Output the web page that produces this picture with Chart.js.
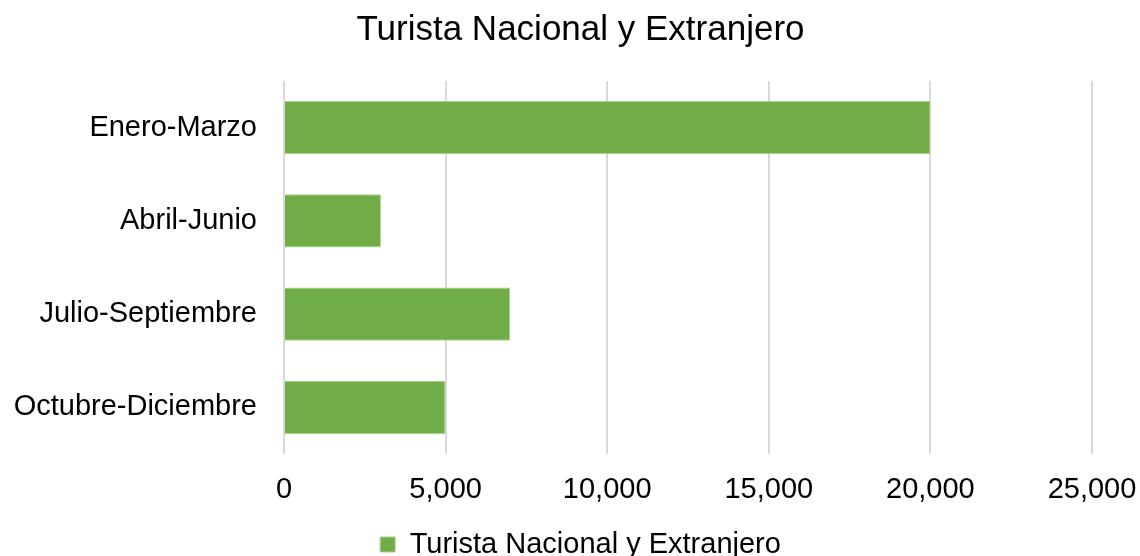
<!DOCTYPE html>
<html>
<head>
<meta charset="utf-8">
<script src="https://cdn.jsdelivr.net/npm/chart.js@4"></script>
<style>
  html, body { margin:0; padding:0; background:#fff; }
  #wrap { width:1140px; height:556px; }
</style>
</head>
<body>
<div id="wrap"><canvas id="chart" width="1140" height="556"></canvas></div>
<script>
/* DATA */
const categories = ["Enero-Marzo", "Abril-Junio", "Julio-Septiembre", "Octubre-Diciembre"];
const seriesName = "Turista Nacional y Extranjero";
const seriesValues = [20000, 3000, 7000, 5000];
const xTicks = [0, 5000, 10000, 15000, 20000, 25000];

/* STYLE */
const FONT = "'Liberation Sans', Arial, sans-serif";
const GREEN = "#70ad47";
const GRID = "#d9d9d9";

Chart.defaults.font.family = FONT;
Chart.defaults.color = "#000";

// title and legend sit a bit right of the canvas centre
const shiftTop = {
  id: "shiftTop",
  afterLayout(chart) {
    if (chart.titleBlock) chart.titleBlock.left += 21;
    if (chart.legend) chart.legend.left += 21;
  }
};

new Chart(document.getElementById("chart").getContext("2d"), {
  type: "bar",
  data: {
    labels: categories,
    datasets: [{
      label: seriesName,
      data: seriesValues,
      backgroundColor: GREEN,
      borderColor: "#a9d18e",
      borderWidth: 1,
      barPercentage: 0.57,
      categoryPercentage: 1
    }]
  },
  plugins: [shiftTop],
  options: {
    indexAxis: "y",
    responsive: false,
    animation: false,
    layout: { padding: { left: 0, right: 0, top: 0, bottom: -13 } },
    plugins: {
      title: {
        display: true,
        text: "Turista Nacional y Extranjero",
        color: "#000",
        font: { size: 35, weight: "normal" },
        padding: { top: 9, bottom: 30 }
      },
      legend: {
        position: "bottom",
        labels: {
          color: "#000",
          font: { size: 29 },
          boxWidth: 15,
          boxHeight: 15,
          padding: 0
        }
      },
      tooltip: { enabled: false }
    },
    scales: {
      x: {
        min: 0,
        max: 25000,
        afterBuildTicks: (s) => { s.ticks = xTicks.map(v => ({ value: v })); },
        afterFit: (s) => { s.height = 76; s.paddingRight = 48; },
        ticks: {
          font: { size: 29 },
          color: "#000",
          padding: 19,
          maxRotation: 0,
          callback: (v) => Number(v).toLocaleString("en-US")
        },
        grid: { color: GRID, lineWidth: 2, drawTicks: false },
        border: { display: false }
      },
      y: {
        afterFit: (s) => { s.width = 284; },
        ticks: { font: { size: 29 }, color: "#000", padding: 27 },
        grid: { display: false, drawTicks: false },
        border: { display: false }
      }
    }
  }
});
</script>
</body>
</html>
